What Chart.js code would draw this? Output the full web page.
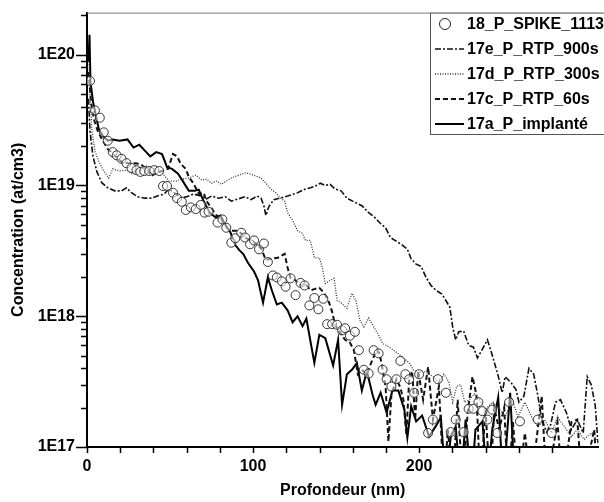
<!DOCTYPE html>
<html>
<head>
<meta charset="utf-8">
<script src="https://cdn.jsdelivr.net/npm/chart.js@4.4.1/dist/chart.umd.min.js"></script>
<style>
  html, body { margin: 0; padding: 0; background: #fff; }
</style>
</head>
<body>
<canvas id="sims" width="604" height="502"></canvas>
<script>
// profils SIMS du phosphore : profondeur (nm) / concentration (at/cm3)
const seriesNames = ["18_P_SPIKE_1113", "17e_P_RTP_900s", "17d_P_RTP_300s", "17c_P_RTP_60s", "17a_P_implanté"];

const spikeDepth = [1.8,4.8,7.7,10.1,12.5,15.5,17.9,20.8,23.8,26.8,29.8,32.1,34.5,37.5,40.5,43.5,45.8,48.2,51.8,54.2,57.1,59.5,62.5,65.5,68.5,70.8,73.2,78.6,81.5,83.9,86.9,89.3,92.9,95.2,98.2,100.6,103.6,106.5,108.9,111.9,114.3,117.3,119.6,122.6,125.6,128.6,131.0,133.9,136.9,139.3,142.3,144.6,147.6,150.6,153.6,155.4,158.3,161.3,163.7,166.7,169.6,172.6,175.6,178.0,180.4,183.3,186.3,188.7,191.7,194.0,197.0,200.0,205.4,208.3,211.3,216.1,219.0,222.0,226.8,229.8,232.7,235.7,238.1,241.1,244.0,247.0,254.2,260.7,271.4,279.8];
const spikeConc = [6.3e19,3.75e19,3.3e19,2.55e19,2.2e19,1.8e19,1.7e19,1.6e19,1.48e19,1.36e19,1.31e19,1.27e19,1.29e19,1.29e19,1.31e19,1.29e19,9.9e18,9.9e18,8.8e18,8.0e18,7.5e18,6.5e18,6.8e18,6.6e18,7.1e18,6.2e18,6.3e18,5.2e18,5.5e18,4.75e18,3.65e18,3.95e18,4.35e18,4.0e18,3.55e18,3.8e18,3.25e18,3.6e18,2.6e18,2.05e18,1.98e18,1.85e18,1.68e18,1.95e18,1.45e18,1.8e18,1.72e18,1.21e18,1.38e18,1.13e18,1.36e18,8.7e17,8.7e17,8.6e17,7.8e17,8.1e17,7.1e17,7.6e17,5.5e17,3.9e17,3.65e17,5.5e17,5.2e17,3.9e17,3.3e17,2.9e17,3.3e17,4.55e17,3.6e17,3.3e17,2.6e17,3.6e17,1.28e17,1.62e17,3.3e17,2.6e17,1.3e17,1.62e17,1.3e17,1.96e17,1.96e17,2.2e17,1.88e17,1.62e17,1.93e17,1.28e17,2.2e17,1.57e17,1.62e17,1.28e17];

const rtp900Depth = [0.9,1.8,3.6,6.0,8.9,12.5,16.7,20.8,23.8,26.8,30.4,34.5,38.7,42.3,46.4,49.4,53.6,57.1,61.3,64.3,68.5,72.0,75.0,79.2,83.3,86.9,91.1,95.2,98.8,102.4,104.8,106.5,107.7,109.5,112.5,116.1,120.8,126.8,131.5,134.5,137.5,140.5,143.5,146.4,149.4,153.0,156.5,160.7,165.5,169.6,173.2,176.8,179.8,182.7,186.9,189.9,192.9,195.2,198.2,201.2,204.2,207.1,210.1,213.7,216.1,218.5,220.2,222.0,223.8,226.8,229.8,232.7,235.1,238.1,241.1,243.5,245.8,247.6,250.0,251.8,255.4,258.3,260.1,263.1,266.1,269.0,271.4,273.8,276.8,279.2,282.1,285.1,288.7,291.7,295.2,298.8,301.2,303.6,306.0,307.7];
const rtp900Conc = [4.6e19,2.6e19,1.67e19,1.27e19,1.05e19,9.6e18,9.1e18,9.1e18,9.6e18,8.8e18,8.2e18,8.0e18,8.0e18,8.3e18,8.6e18,9.4e18,8.6e18,8.0e18,8.3e18,8.6e18,8.3e18,7.9e18,8.3e18,8.0e18,8.2e18,7.6e18,7.9e18,8.2e18,7.8e18,8.3e18,8.0e18,7.0e18,5.9e18,6.9e18,7.8e18,8.0e18,8.3e18,8.8e18,9.4e18,9.6e18,9.9e18,1.04e19,1.0e19,1.02e19,9.4e18,9.1e18,8.0e18,7.5e18,7.0e18,6.2e18,5.7e18,5.1e18,4.75e18,4.0e18,3.7e18,3.5e18,3.25e18,2.75e18,2.5e18,2.4e18,1.98e18,1.72e18,1.58e18,1.48e18,1.32e18,1.17e18,8.3e17,6.6e17,7.6e17,7.7e17,6.0e17,5.8e17,4.8e17,5.6e17,6.6e17,5.3e17,4.2e17,3.5e17,2.6e17,3.45e17,3.1e17,2.75e17,2.2e17,2.45e17,4.0e17,3.6e17,2.5e17,1.62e17,1.3e17,1.48e17,2.2e17,2.3e17,1.83e17,1.36e17,1.62e17,1.28e17,3.45e17,3.0e17,2.1e17,1.07e17];

const rtp300Depth = [1.2,1.8,3.0,4.8,7.1,10.1,13.1,15.5,19.6,23.8,27.4,30.4,35.7,40.5,45.2,49.4,53.6,57.1,61.3,65.5,69.0,72.0,75.0,78.0,81.0,83.9,86.9,89.9,92.9,95.8,98.8,101.8,104.8,107.7,110.7,113.7,116.7,119.0,120.8,123.8,126.8,129.8,131.5,134.5,136.9,139.9,141.7,143.5,146.4,148.8,150.6,153.6,156.5,159.5,161.9,164.3,166.7,169.6,172.6,175.6,178.0,182.1,186.3,190.5,194.0,196.4,199.4,202.4,204.8,208.3,211.9,214.9,217.9,220.2,222.6,225.0,227.4,230.4,233.3,236.3,239.9,244.0,247.6,251.8,256.0,259.5,263.7,267.9,271.4,275.6,279.8,283.3,287.5,291.7,295.2,299.4,303.6,307.1];
const rtp300Conc = [8.85e19,5.0e19,2.6e19,1.83e19,1.53e19,1.29e19,1.14e19,1.34e19,1.29e19,1.31e19,1.22e19,1.29e19,1.41e19,1.34e19,1.25e19,1.08e19,1.08e19,1.12e19,1.14e19,1.2e19,1.1e19,1.12e19,1.04e19,1.08e19,1.02e19,1.08e19,1.14e19,1.18e19,1.22e19,1.25e19,1.22e19,1.18e19,1.14e19,1.04e19,9.4e18,8.8e18,8.0e18,7.6e18,6.2e18,5.4e18,4.5e18,4.3e18,3.8e18,3.8e18,2.8e18,2.8e18,2.35e18,1.78e18,1.88e18,1.95e18,1.32e18,1.25e18,1.15e18,1.5e18,1.32e18,9.3e17,8.3e17,9.7e17,8.3e17,7.2e17,6.2e17,5.8e17,5.3e17,4.8e17,4.4e17,3.9e17,3.7e17,3.8e17,3.7e17,3.45e17,3.1e17,3.6e17,3.15e17,2.2e17,2.9e17,3.0e17,2.2e17,2.3e17,2.55e17,2.3e17,1.93e17,2.2e17,2.0e17,1.7e17,2.3e17,1.7e17,2.2e17,1.68e17,1.43e17,1.62e17,1.28e17,1.7e17,1.43e17,1.2e17,1.36e17,1.14e17,1.28e17,1.14e17];

const rtp60Depth = [0.9,2.4,4.2,6.5,9.5,12.5,15.5,18.5,21.4,25.0,28.6,32.1,35.7,38.7,41.7,45.2,48.8,51.8,54.2,56.5,59.5,61.3,64.3,67.3,70.2,72.0,75.0,78.0,81.0,83.3,86.3,89.9,92.9,95.8,98.8,101.8,104.8,107.7,110.7,114.9,119.0,120.8,122.6,125.6,128.6,131.5,134.5,137.5,139.9,142.9,145.8,147.6,149.4,152.4,155.4,158.3,160.7,163.1,165.5,168.5,171.4,174.4,176.2,178.0,179.8,181.5,183.3,186.3,188.7,190.5,192.3,194.0,195.8,197.6,199.4,202.4,205.4,208.3,211.9,214.9,217.3,220.2,223.2,226.2,229.2,232.1,234.5,236.9,239.9,242.9,245.2,248.2,251.2,253.6,256.5,259.5,263.7,267.3,273.8,276.8,283.3,286.3,291.7,295.2,298.2,305.4,307.7];
const rtp60Conc = [7.4e19,4.4e19,3.2e19,2.6e19,2.2e19,1.9e19,1.77e19,1.6e19,1.5e19,1.48e19,1.48e19,1.46e19,1.34e19,1.18e19,1.25e19,1.29e19,1.34e19,1.74e19,1.67e19,1.46e19,1.34e19,1.16e19,1.03e19,8.6e18,8.8e18,7.6e18,6.7e18,5.9e18,5.6e18,4.9e18,4.5e18,4.5e18,4.3e18,3.95e18,3.8e18,3.6e18,3.3e18,2.7e18,2.75e18,2.8e18,3.0e18,2.35e18,1.95e18,1.88e18,1.72e18,1.78e18,1.58e18,1.62e18,1.65e18,1.5e18,1.27e18,1.08e18,8.6e17,7.5e17,6.6e17,6.3e17,5.5e17,3.6e17,3.9e17,3.6e17,4.5e17,5.5e17,5.2e17,3.9e17,2.9e17,1.1e17,2.5e17,3.3e17,2.85e17,2.3e17,1.24e17,3.3e17,3.8e17,1.62e17,3.8e17,2.3e17,4.1e17,1.62e17,2.9e17,5e16,1.36e17,5e16,2.3e17,5e16,1.83e17,3.45e17,2.5e17,5e16,1.93e17,5e16,2.0e17,1.36e17,2.0e17,5e16,1.55e17,5e16,1.28e17,5e16,2.45e17,5e16,1.55e17,5e16,1.55e17,1.62e17,5e16,1.36e17,5e16];

const implDepth = [0.9,1.5,2.1,3.6,5.4,7.1,9.5,12.5,15.5,19.6,24.4,28.0,31.5,35.1,38.1,41.7,45.2,48.2,51.2,54.8,57.7,61.3,64.9,67.3,70.2,73.8,77.4,80.4,83.3,86.3,89.3,91.7,94.0,97.0,100.6,103.0,106.0,108.9,111.3,114.3,117.3,120.8,123.8,126.8,129.8,132.1,136.9,139.9,143.5,148.2,151.2,153.6,156.5,159.5,162.5,165.5,168.5,172.0,173.8,176.8,180.4,183.9,187.5,191.1,192.9,195.2,198.2,201.8,206.0,210.1,213.1,216.1,219.0,222.0,225.0,228.0,231.5,233.9,238.1,241.1,244.0,247.6,250.6,254.8,257.7,262.0];
const implConc = [8.85e19,1.42e20,6.2e19,4.4e19,3.4e19,2.7e19,2.4e19,2.2e19,2.25e19,2.2e19,2.25e19,1.95e19,2.05e19,1.83e19,1.67e19,1.8e19,1.74e19,1.38e19,1.34e19,1.23e19,1.08e19,9.1e18,9.1e18,9.3e18,7.6e18,6.2e18,5.7e18,5.9e18,5.0e18,4.4e18,3.5e18,3.2e18,3.0e18,2.55e18,2.2e18,1.88e18,1.27e18,1.98e18,1.58e18,1.23e18,1.27e18,1.11e18,9.0e17,1.0e18,8.4e17,9.6e17,4.4e17,7.2e17,6.8e17,4.2e17,6.6e17,2.1e17,3.6e17,3.9e17,4.4e17,2.7e17,3.8e17,2.5e17,2.1e17,2.6e17,1.83e17,2.7e17,2.7e17,1.93e17,1.18e17,2.05e17,1.57e17,1.74e17,1.2e17,1.45e17,1.68e17,5e16,1.2e17,1.43e17,5e16,1.62e17,5e16,1.36e17,1.57e17,5e16,1.36e17,2.4e17,5e16,2.6e17,5e16,5e16];

// axes
const xMin = 0, xMax = 308, xStep = 20, xLabelEvery = 100;
const yMin = 1e17, yMax = 2.1e20;

const FONT = "'Liberation Sans', Arial, sans-serif";

function toPoints(depth, conc) {
  return depth.map((d, i) => ({ x: d, y: conc[i] }));
}

// ticks dessinés à la main (majeurs plus longs sur l'axe log)
const axisTicks = {
  id: 'axisTicks',
  afterDraw(chart) {
    const { ctx, chartArea: a, scales: { x, y } } = chart;
    ctx.save();
    ctx.strokeStyle = '#000';
    ctx.lineWidth = 1.5;
    ctx.beginPath();
    y.ticks.forEach(t => {
      const lg = Math.log10(t.value);
      const m = Math.pow(10, lg - Math.floor(lg + 1e-9));
      if (Math.abs(m - Math.round(m)) > 0.02) return;
      const py = Math.round(y.getPixelForValue(t.value)) + 0.5;
      const len = Math.round(m) === 1 ? 11 : 6;
      ctx.moveTo(a.left - len, py);
      ctx.lineTo(a.left, py);
    });
    x.ticks.forEach(t => {
      if (Math.abs(t.value % xStep) > 1e-6) return;
      const px = Math.round(x.getPixelForValue(t.value)) + 0.5;
      ctx.moveTo(px, a.bottom);
      ctx.lineTo(px, a.bottom + 6);
    });
    ctx.stroke();
    // trait du haut
    ctx.strokeStyle = '#777';
    ctx.lineWidth = 1;
    ctx.beginPath();
    ctx.moveTo(a.left, a.top + 0.5);
    ctx.lineTo(a.right, a.top + 0.5);
    ctx.stroke();
    ctx.restore();
  }
};

// légende encadrée en haut à droite
const boxLegend = {
  id: 'boxLegend',
  afterDraw(chart) {
    const { ctx, chartArea: a } = chart;
    const left = 430, top = a.top, rowH = 25, first = 24;
    const n = chart.data.datasets.length;
    const h = first - top + (n - 1) * rowH + 10;
    ctx.save();
    ctx.fillStyle = '#fff';
    ctx.fillRect(left, top, 200, h);
    ctx.strokeStyle = '#555';
    ctx.lineWidth = 1;
    ctx.strokeRect(left + 0.5, top + 0.5, 200, h);
    ctx.font = "bold 16px " + FONT;
    ctx.textBaseline = 'middle';
    ctx.fillStyle = '#000';
    chart.data.datasets.forEach((ds, i) => {
      const cy = first + i * rowH;
      ctx.strokeStyle = ds.borderColor;
      if (ds.showLine === false) {
        ctx.setLineDash([]);
        ctx.lineWidth = 1;
        ctx.beginPath();
        ctx.arc(445, cy, 5.5, 0, Math.PI * 2);
        ctx.stroke();
      } else {
        ctx.setLineDash(ds.borderDash || []);
        ctx.lineWidth = ds.borderWidth;
        ctx.beginPath();
        ctx.moveTo(435, cy);
        ctx.lineTo(464, cy);
        ctx.stroke();
      }
      ctx.setLineDash([]);
      ctx.fillText(ds.label, 467, cy + 1);
    });
    ctx.restore();
  }
};

new Chart(document.getElementById('sims'), {
  type: 'line',
  data: {
    datasets: [
      {
        label: seriesNames[0],
        data: toPoints(spikeDepth, spikeConc),
        showLine: false,
        pointStyle: 'circle',
        pointRadius: 4.5,
        pointBorderWidth: 1,
        borderColor: '#222',
        pointBorderColor: '#333',
        pointBackgroundColor: 'rgba(255,255,255,0.5)'
      },
      {
        label: seriesNames[1],
        data: toPoints(rtp900Depth, rtp900Conc),
        borderColor: '#111',
        borderWidth: 1.6,
        borderDash: [6, 2, 2, 2],
        pointRadius: 0
      },
      {
        label: seriesNames[2],
        data: toPoints(rtp300Depth, rtp300Conc),
        borderColor: '#333',
        borderWidth: 1.3,
        borderDash: [1, 1.5],
        pointRadius: 0
      },
      {
        label: seriesNames[3],
        data: toPoints(rtp60Depth, rtp60Conc),
        borderColor: '#111',
        borderWidth: 2,
        borderDash: [5, 3],
        pointRadius: 0
      },
      {
        label: seriesNames[4],
        data: toPoints(implDepth, implConc),
        borderColor: '#000',
        borderWidth: 2,
        pointRadius: 0
      }
    ]
  },
  options: {
    responsive: false,
    animation: false,
    devicePixelRatio: 1,
    layout: { padding: { top: 11, right: 0, bottom: 0, left: 0 } },
    plugins: {
      legend: { display: false },
      tooltip: { enabled: false }
    },
    elements: { line: { tension: 0 } },
    scales: {
      x: {
        type: 'linear',
        min: xMin,
        max: xMax,
        afterFit(scale) { scale.height = 55; },
        border: { display: true, color: '#000', width: 2 },
        grid: { display: false, drawTicks: true, tickLength: 6 },
        ticks: {
          stepSize: xStep,
          autoSkip: false,
          maxRotation: 0,
          padding: 4,
          color: '#000',
          font: { family: FONT, size: 16, weight: 'bold' },
          callback: v => (Math.abs(v % xLabelEvery) < 1e-6 ? String(v) : '')
        },
        title: {
          display: true,
          text: 'Profondeur (nm)',
          color: '#000',
          font: { family: FONT, size: 16, weight: 'bold' },
          padding: { top: 0, bottom: 2 }
        }
      },
      y: {
        type: 'logarithmic',
        min: yMin,
        max: yMax,
        afterFit(scale) { scale.width = 87; },
        border: { display: true, color: '#000', width: 2 },
        grid: { display: false, drawTicks: true, tickLength: 9 },
        ticks: {
          autoSkip: false,
          padding: 3,
          color: '#000',
          font: { family: FONT, size: 16, weight: 'bold' },
          callback: v => {
            const lg = Math.log10(v);
            return Math.abs(lg - Math.round(lg)) < 1e-9 ? '1E' + Math.round(lg) : '';
          }
        },
        title: {
          display: true,
          text: 'Concentration (at/cm3)',
          color: '#000',
          font: { family: FONT, size: 16, weight: 'bold' },
          padding: { top: 9, bottom: 0 }
        }
      }
    }
  },
  plugins: [axisTicks, boxLegend]
});
</script>
</body>
</html>
